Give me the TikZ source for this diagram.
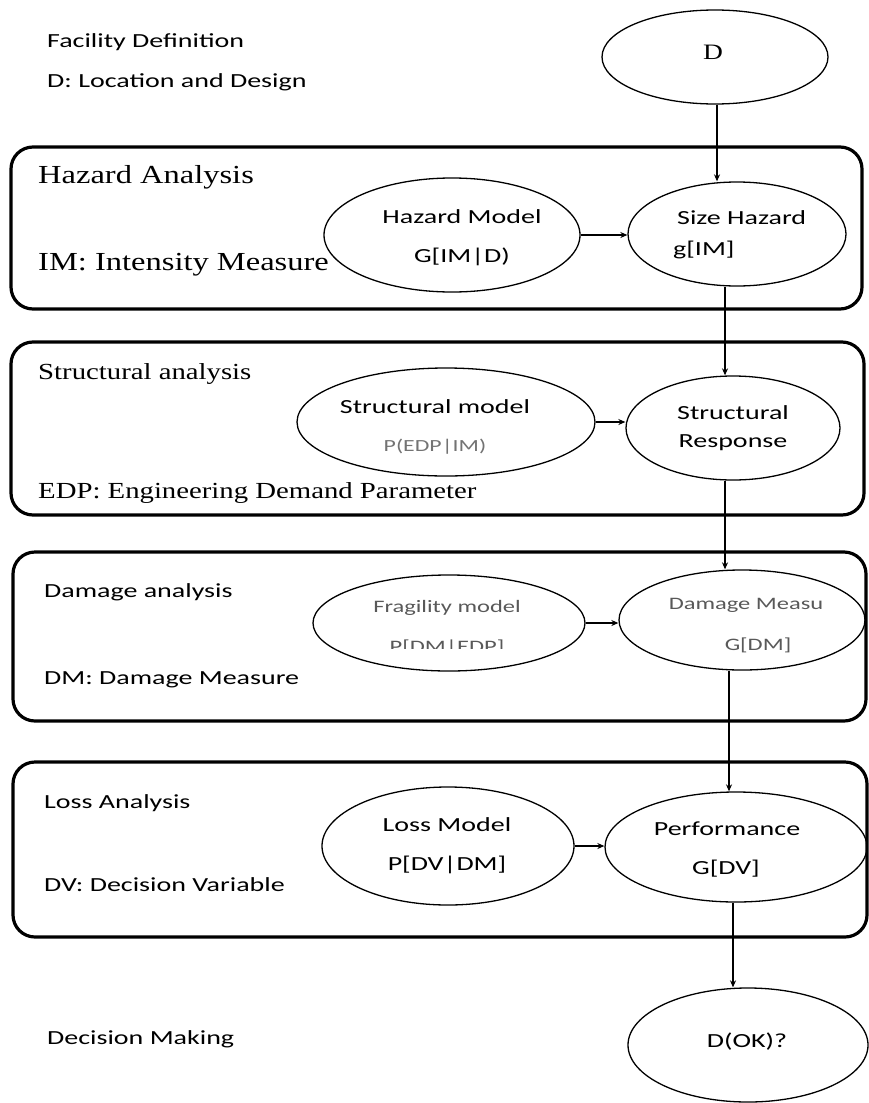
\documentclass[tikz,border=0pt]{standalone}
\usepackage{fontspec}
\newfontfamily\calfont{Carlito}[FakeStretch=1.4]
\newfontfamily\tmsfont{Liberation Serif}[FakeStretch=1.25]
\usetikzlibrary{arrows.meta,shapes.geometric}
\begin{document}
\begin{tikzpicture}[x=1pt,y=-1pt,
  panel/.style={draw, line width=3.2pt, rounded corners=22pt},
  oval/.style={draw, ellipse, line width=1.3pt, inner sep=0pt},
  sans/.style={font=\calfont\fontsize{20}{24}\selectfont, inner sep=0pt},
  sanssm/.style={font=\calfont\fontsize{17.5}{21}\selectfont, inner sep=0pt, text=black!65},
  serifA/.style={font=\tmsfont\fontsize{26}{30}\selectfont, inner sep=0pt},
  serifB/.style={font=\tmsfont\fontsize{23}{27}\selectfont, inner sep=0pt},
  arr/.style={line width=1.5pt, -{Stealth[length=7pt,width=6pt]}}]
\useasboundingbox (0,0) rectangle (869,1103);

% panels
\draw[panel] (11,147) rectangle (862,309);
\draw[panel] (11,342) rectangle (864,515);
\draw[panel] (13,552) rectangle (866,721);
\draw[panel] (13,762) rectangle (867,937);

% left texts
\node[sans, anchor=west] (fac) at (47,42) {Facility Definition};
\node[sans, anchor=west] (facd) at (47,82) {D: Location and Design};
\node[serifA, anchor=west] (haz) at (38,177) {Hazard Analysis};
\node[serifA, anchor=west] (im) at (38,265) {IM: Intensity Measure};
\node[serifB, anchor=west] (str) at (38,374) {Structural analysis};
\node[serifB, anchor=west] (edp) at (38,493) {EDP: Engineering Demand Parameter};
\node[sans, anchor=west] (dam) at (44,592) {Damage analysis};
\node[sans, anchor=west] (dmm) at (44,680) {DM: Damage Measure};
\node[sans, anchor=west] (los) at (44,803) {Loss Analysis};
\node[sans, anchor=west] (dv) at (44,885) {DV: Decision Variable};
\node[sans, anchor=west] (dec) at (47,1039) {Decision Making};

% ellipses
\node[oval, minimum width=226, minimum height=94] (d) at (715,57) {};
\node[oval, minimum width=256, minimum height=114] (hm) at (452,235) {};
\node[oval, minimum width=218, minimum height=104] (sh) at (737,234) {};
\node[oval, minimum width=298, minimum height=108] (sm) at (446,422) {};
\node[oval, minimum width=214, minimum height=104] (sr) at (733,428) {};
\node[oval, minimum width=272, minimum height=96] (fr) at (449,623) {};
\node[oval, minimum width=246, minimum height=100] (dm) at (742,620) {};
\node[oval, minimum width=252, minimum height=118] (lm) at (448,846) {};
\node[oval, minimum width=262, minimum height=110] (pf) at (736,847) {};
\node[oval, minimum width=240, minimum height=114] (ok) at (748,1045) {};

% ellipse texts
\node[font=\tmsfont\fontsize{22}{26}\selectfont, inner sep=0pt] (dT) at (713,52) {D};
\node[sans] (hmA) at (462,217) {Hazard Model};
\node[sans] (hmB) at (462,257) {G[IM|D)};
\node[sans, anchor=west] (shA) at (677,218) {Size Hazard};
\node[sans, anchor=west] (shB) at (673,250) {g[IM]};
\node[sans] (smA) at (435,407) {Structural model};
\node[sanssm, font=\calfont\fontsize{17}{20}\selectfont, text=black!55] (smB) at (435,447) {P(EDP|IM)};
\node[sans] (srA) at (733,413) {Structural};
\node[sans] (srB) at (733,443) {Response};
\node[sanssm] (frA) at (447,608) {Fragility model};
\begin{scope}
  \clip (360,630) rectangle (540,648);
  \node[sanssm] (frB) at (447,648) {P[DM|EDP]};
\end{scope}
\node[sanssm] (dmA) at (746,605) {Damage Measu};
\node[sanssm] (dmB) at (758,645) {G[DM]};
\node[sans] (lmA) at (447,825) {Loss Model};
\node[sans] (lmB) at (447,865) {P[DV|DM]};
\node[sans] (pfA) at (727,829) {Performance};
\node[sans] (pfB) at (726,869) {G[DV]};
\node[sans] (okT) at (747,1042) {D(OK)?};

% vertical connectors
\draw[arr] ([xshift=2pt]d.south) -- ([xshift=2pt]d.south |- sh.north);
\draw[arr] ([xshift=-12pt]sh.south) -- ([xshift=-12pt]sh.south |- sr.north);
\draw[arr] ([xshift=-8pt]sr.south) -- ([xshift=-8pt]sr.south |- dm.north);
\draw[arr] ([xshift=-13pt]dm.south) -- ([xshift=-13pt]dm.south |- pf.north);
\draw[arr] ([xshift=-3pt]pf.south) -- ([xshift=-3pt]pf.south |- ok.north);

% horizontal connectors
\draw[arr] (hm.east) -- (hm.east -| sh.west);
\draw[arr] (sm.east) -- (sm.east -| sr.west);
\draw[arr] (fr.east) -- (fr.east -| dm.west);
\draw[arr] (lm.east) -- (lm.east -| pf.west);
\end{tikzpicture}
\end{document}
